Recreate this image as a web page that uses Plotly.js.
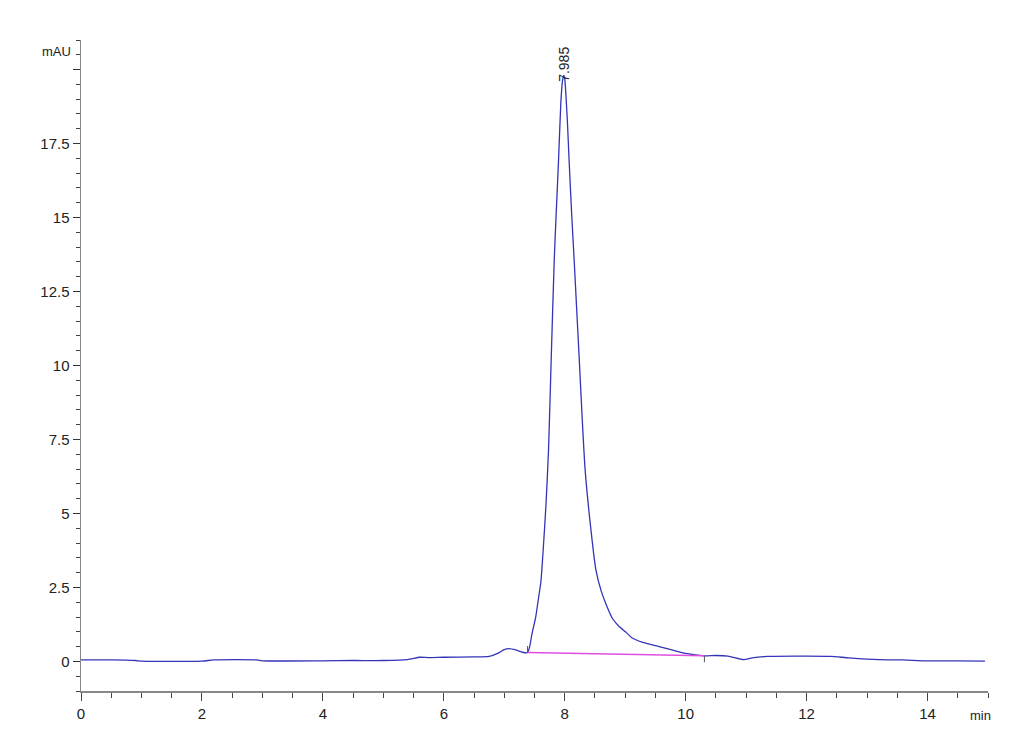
<!DOCTYPE html>
<html>
<head>
<meta charset="utf-8">
<script src="https://cdn.plot.ly/plotly-3.0.1.min.js"></script>
<style>html,body{margin:0;padding:0;background:#fff;}#chart{width:1030px;height:755px;}</style>
</head>
<body>
<div id="chart"></div>
<script>
// Retention time (min)
const timeMin = [0, 0.5, 0.9, 1.0, 2.0, 2.2, 2.9, 3.0, 4.0, 4.5, 5.0, 5.4, 5.6, 5.75, 6.0, 6.5, 6.75, 6.9, 7.0, 7.08, 7.2, 7.3, 7.385,
  7.42, 7.46, 7.52, 7.56, 7.606, 7.644, 7.69, 7.732, 7.776, 7.826, 7.86, 7.897, 7.936, 7.965, 7.985, 8.0, 8.019, 8.045, 8.073, 8.115, 8.156, 8.2, 8.238, 8.29, 8.337, 8.415, 8.514, 8.6, 8.7, 8.79, 8.9, 9.01, 9.11, 9.28, 9.56, 9.83, 10.0, 10.31, 10.5, 10.7, 10.96, 11.1, 11.35, 12.0, 12.4, 12.7, 13.2, 13.6, 13.96, 14.5, 14.95];
// Absorbance (mAU)
const absorb = [0.05, 0.05, 0.03, 0.01, 0.01, 0.05, 0.05, 0.02, 0.02, 0.03, 0.03, 0.06, 0.14, 0.13, 0.14, 0.15, 0.17, 0.28, 0.40, 0.43, 0.38, 0.31, 0.30,
  0.50, 0.95, 1.50, 2.05, 2.70, 3.78, 5.30, 7.15, 10.20, 13.55, 15.20, 16.90, 18.90, 19.65, 19.80, 19.70, 19.17, 18.20, 16.90, 15.10, 13.55, 11.80, 10.30, 8.16, 6.48, 4.79, 3.11, 2.40, 1.85, 1.45, 1.18, 0.99, 0.80, 0.65, 0.50, 0.36, 0.27, 0.19, 0.20, 0.18, 0.06, 0.12, 0.17, 0.18, 0.17, 0.12, 0.06, 0.05, 0.02, 0.02, 0.01];
// Integration baseline
const baseT = [7.385, 10.31];
const baseV = [0.30, 0.19];
// Peak label
const peakT = 7.985;
const peakV = 19.8;
const peakLabel = '7.985';
// Axis ticks
const yTickVals = [0, 2.5, 5, 7.5, 10, 12.5, 15, 17.5, 20];
const yTickText = ['0', '2.5', '5', '7.5', '10', '12.5', '15', '17.5', ''];
const xTickVals = [0, 2, 4, 6, 8, 10, 12, 14];
const xTickText = ['0', '2', '4', '6', '8', '10', '12', '14'];

const FONT = '"Liberation Sans Narrow", "Arial Narrow", Arial, sans-serif';

const traces = [
  {x: timeMin, y: absorb, mode: 'lines', line: {color: '#3434b8', width: 1.3, shape: 'spline', smoothing: 0.6}, hoverinfo: 'skip'},
  {x: baseT, y: baseV, mode: 'lines', line: {color: '#e04ee0', width: 1.4}, hoverinfo: 'skip'},
  {x: [baseT[0], baseT[0]], y: [baseV[0], baseV[0] + 0.22], mode: 'lines', line: {color: '#555', width: 1}, hoverinfo: 'skip'},
  {x: [baseT[1], baseT[1]], y: [baseV[1], baseV[1] - 0.22], mode: 'lines', line: {color: '#555', width: 1}, hoverinfo: 'skip'}
];

const layout = {
  width: 1030, height: 755,
  margin: {l: 81, r: 42, t: 40, b: 64},
  paper_bgcolor: '#fff', plot_bgcolor: '#fff',
  showlegend: false,
  font: {family: FONT, size: 15, color: '#222'},
  xaxis: {
    range: [0, 15], tickmode: 'array', tickvals: xTickVals, ticktext: xTickText,
    ticks: 'outside', ticklen: 8, tickwidth: 1, tickcolor: '#444',
    showline: true, linecolor: '#888', linewidth: 2,
    showgrid: false, zeroline: false,
    minor: {dtick: 0.5, ticks: 'outside', ticklen: 5, tickcolor: '#444', tickwidth: 1, showgrid: false},
    tickfont: {family: FONT, size: 15, color: '#222'}
  },
  yaxis: {
    range: [-1, 21], tickmode: 'array', tickvals: yTickVals, ticktext: yTickText,
    ticks: 'outside', ticklen: 7, tickwidth: 1.5, tickcolor: '#333',
    showline: true, linecolor: '#888', linewidth: 1.5,
    showgrid: false, zeroline: false,
    minor: {dtick: 0.5, ticks: 'outside', ticklen: 4, tickcolor: '#444', tickwidth: 1, showgrid: false},
    tickfont: {family: FONT, size: 15, color: '#222'}
  },
  annotations: [
    {x: peakT, y: peakV, xref: 'x', yref: 'y', text: peakLabel, textangle: -90, showarrow: false,
     xanchor: 'center', yanchor: 'bottom', yshift: -8, font: {family: 'Arial, sans-serif', size: 14, color: '#222'}},
    {x: -0.027, y: 0.982, xref: 'paper', yref: 'paper', text: 'mAU', showarrow: false,
     xanchor: 'center', yanchor: 'middle', font: {family: FONT, size: 13, color: '#222'}},
    {x: 0.992, y: -0.038, xref: 'paper', yref: 'paper', text: 'min', showarrow: false,
     xanchor: 'center', yanchor: 'middle', font: {family: FONT, size: 13, color: '#222'}}
  ]
};

Plotly.newPlot('chart', traces, layout, {staticPlot: true, displayModeBar: false});
</script>
</body>
</html>
